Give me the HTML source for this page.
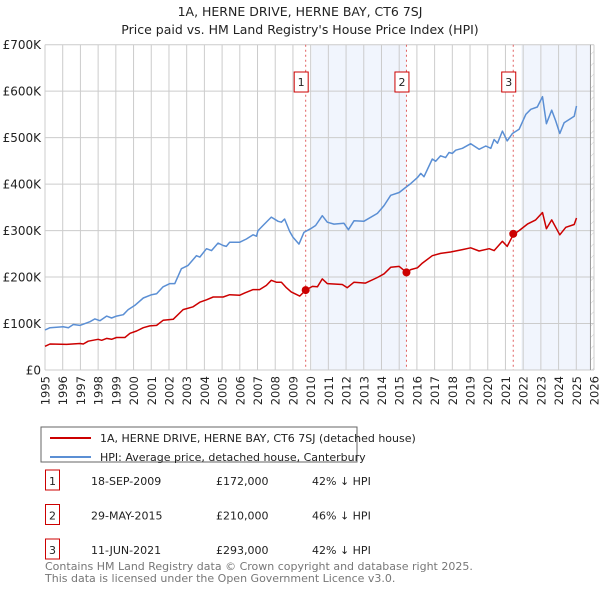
<!DOCTYPE html>
<html><head><meta charset="utf-8"><style>
body{margin:0;background:#fff;font-family:"DejaVu Sans","Liberation Sans",sans-serif;}
svg text{font-family:"DejaVu Sans","Liberation Sans",sans-serif;}
</style></head><body>
<svg id="chart" width="600" height="590" viewBox="0 0 600 590" xmlns="http://www.w3.org/2000/svg">
<defs><pattern id="hatch" width="8" height="8" patternUnits="userSpaceOnUse" patternTransform="rotate(45)"><line x1="0" y1="0" x2="0" y2="8" stroke="#ccc" stroke-width="1"/></pattern></defs>
<text x="300" y="16" text-anchor="middle" font-size="12.5" fill="#222">1A, HERNE DRIVE, HERNE BAY, CT6 7SJ</text>
<text x="300" y="34" text-anchor="middle" font-size="12.5" fill="#222">Price paid vs. HM Land Registry's House Price Index (HPI)</text>
<g id="plot"></g>
<g>
<rect x="41" y="427" width="316" height="35" fill="#fff" stroke="#666"/>
<line x1="50" y1="438" x2="91" y2="438" stroke="#cc0000" stroke-width="2"/>
<text x="100" y="442" font-size="11" fill="#222">1A, HERNE DRIVE, HERNE BAY, CT6 7SJ (detached house)</text>
<line x1="50" y1="457" x2="91" y2="457" stroke="#5b8fd4" stroke-width="2"/>
<text x="100" y="461" font-size="11" fill="#222">HPI: Average price, detached house, Canterbury</text>
</g>
<g id="table" font-size="11" fill="#222"></g>
<text x="45" y="570" font-size="11" fill="#777">Contains HM Land Registry data © Crown copyright and database right 2025.</text>
<text x="45" y="582" font-size="11" fill="#777">This data is licensed under the Open Government Licence v3.0.</text>
</svg>
<script>
const yTicks=[0,100000,200000,300000,400000,500000,600000,700000];
const yTickLabels=["£0","£100K","£200K","£300K","£400K","£500K","£600K","£700K"];
const hpiYears=[1995,1995.28,1996.03,1996.32,1996.6,1996.97,1997.54,1997.82,1998.1,1998.48,1998.76,1999.04,1999.42,1999.7,2000.07,2000.55,2001.02,2001.3,2001.67,2002.05,2002.33,2002.7,2003.08,2003.55,2003.74,2004.12,2004.4,2004.77,2005.06,2005.24,2005.43,2006,2006.37,2006.75,2006.94,2007.03,2007.31,2007.78,2008.16,2008.35,2008.53,2008.82,2009.0,2009.34,2009.62,2010,2010.28,2010.66,2010.94,2011.32,2011.88,2012.13,2012.45,2013.0,2013.77,2014.15,2014.52,2015.0,2015.37,2015.65,2016.03,2016.22,2016.4,2016.87,2017.06,2017.34,2017.62,2017.81,2018.0,2018.19,2018.57,2019.04,2019.51,2019.89,2020.17,2020.36,2020.55,2020.83,2021.1,2021.39,2021.77,2022.15,2022.43,2022.8,2023.09,2023.31,2023.61,2023.84,2024.07,2024.31,2024.6,2024.88,2025.01];
const hpiValues=[86,91,93,91,98,96,104,110,106,116,112,116,119,130,139,155,162,164,179,186,186,218,225,246,243,261,257,273,268,266,275,275,282,291,288,300,311,329,320,318,325,298,286,271,296,304,311,332,318,314,316,302,321,320,337,354,376,382,393,401,414,423,416,454,449,461,457,468,466,473,477,487,475,482,477,496,488,514,493,509,518,550,561,566,588,530,559,536,509,532,539,546,568];
const ppYears=[1995,1995.28,1996.22,1996.97,1997.16,1997.44,1998.0,1998.2,1998.48,1998.76,1999.04,1999.51,1999.8,2000.17,2000.55,2000.92,2001.3,2001.67,2002.24,2002.8,2003.36,2003.74,2004.12,2004.5,2005.06,2005.43,2006,2006.28,2006.75,2007.12,2007.5,2007.78,2008.06,2008.35,2008.63,2008.9,2009.38,2009.72,2010.1,2010.38,2010.66,2010.94,2011.79,2012.07,2012.45,2013.1,2013.77,2014.15,2014.52,2015.0,2015.41,2015.65,2016.03,2016.31,2016.87,2017.34,2017.9,2018.57,2019.04,2019.51,2020.08,2020.36,2020.83,2021.1,2021.44,2021.77,2022.24,2022.71,2023.09,2023.31,2023.61,2024.07,2024.41,2024.88,2025.01];
const ppValues=[51,56,55,57,56,62,66,64,68,66,70,70,79,84,91,95,96,107,109,130,136,146,151,157,157,162,161,166,173,173,182,193,189,189,177,168,159,172,180,179,196,186,184,177,189,187,199,207,221,223,210,216,220,230,246,251,254,259,263,256,261,257,277,266,291,300,314,323,339,304,323,291,307,313,327];
const saleYears=[2009.72,2015.41,2021.44];
const salePrices=[172000,210000,293000];
const saleDates=["18-SEP-2009","29-MAY-2015","11-JUN-2021"];
const saleLabels=["£172,000","£210,000","£293,000"];
const saleHpi=["42% ↓ HPI","46% ↓ HPI","42% ↓ HPI"];
const shadeRanges=[[2010.05,2015.41],[2021.9,2025.8]];

const NS="http://www.w3.org/2000/svg";
const X0=45,X1=594,Y0=370,Y1=44.7;
const xs=y=>X0+(y-1995)*(X1-X0)/31;
const ys=v=>Y0-v*(Y0-Y1)/700000;
function mk(tag,attrs,parent){const e=document.createElementNS(NS,tag);for(const k in attrs)e.setAttribute(k,attrs[k]);parent.appendChild(e);return e;}
const plot=document.getElementById('plot');
const bg=mk('rect',{x:X0,y:Y1,width:X1-X0,height:Y0-Y1,fill:'#fff'},plot);


shadeRanges.forEach(r=>{const s=mk('rect',{x:xs(r[0]),y:Y1,width:xs(r[1])-xs(r[0]),height:Y0-Y1,fill:'#eef3fc',opacity:0.8},plot);

});
const h=mk('rect',{x:xs(2025.8),y:Y1,width:X1-xs(2025.8),height:Y0-Y1,fill:'url(#hatch)'},plot);


for(let yr=1995;yr<=2026;yr++){
 const l=mk('line',{x1:xs(yr),x2:xs(yr),y1:Y1,y2:Y0,stroke:'#ccc','stroke-width':1},plot);
 
 
 const t=mk('text',{x:0,y:0,'font-size':11.5,fill:'#222','text-anchor':'end',transform:`translate(${xs(yr)+4.5},376) rotate(-90)`},plot);
 t.textContent=yr;
 
 
}
yTicks.forEach((v,i)=>{
 const l=mk('line',{x1:X0,x2:X1,y1:ys(v),y2:ys(v),stroke:'#ccc','stroke-width':1},plot);
 
 
 const t=mk('text',{x:41,y:ys(v)+4.5,'font-size':12,fill:'#222','text-anchor':'end'},plot);
 t.textContent=yTickLabels[i];
 
 
});
const ed=mk('line',{x1:xs(2025.8),x2:xs(2025.8),y1:Y1,y2:Y0,stroke:'#999','stroke-width':1},plot);


saleYears.forEach((yr,i)=>{
 const l=mk('line',{x1:xs(yr),x2:xs(yr),y1:Y1,y2:Y0,stroke:'#e06060','stroke-width':1,'stroke-dasharray':'2,3'},plot);
 
 
});
function path(xv,yv,color,name){
 const d=xv.map((x,i)=>(i?'L':'M')+xs(x).toFixed(1)+','+ys(yv[i]*1000).toFixed(1)).join('');
 const p=mk('path',{d:d,fill:'none',stroke:color,'stroke-width':1.5,'stroke-linejoin':'round'},plot);
 
 
}
path(hpiYears,hpiValues,'#5b8fd4','hpi-line');
path(ppYears,ppValues,'#cc0000','price-paid-line');
saleYears.forEach((yr,i)=>{
 const c=mk('circle',{cx:xs(yr),cy:ys(salePrices[i]),r:4,fill:'#cc0000'},plot);
 
 
 const b=mk('rect',{x:xs(yr)-11.5,y:72,width:14,height:20,fill:'#fff',stroke:'#cc0000'},plot);
 
 
 const t=mk('text',{x:xs(yr)-4.5,y:86,'font-size':11,fill:'#222','text-anchor':'middle'},plot);
 t.textContent=i+1;
 
 
});
const tbl=document.getElementById('table');
saleDates.forEach((d,i)=>{
 const y=481+i*34.5;
 const b=mk('rect',{x:45.5,y:y-11,width:14,height:20,fill:'#fff',stroke:'#cc0000'},tbl);
 
 
 const cells=[[52.5,String(i+1),'middle'],[91,d,'start'],[216,saleLabels[i],'start'],[312,saleHpi[i],'start']];
 cells.forEach(c=>{const t=mk('text',{x:c[0],y:y+4,'text-anchor':c[2]},tbl);t.textContent=c[1];
 
 });
});
</script>
</body></html>
